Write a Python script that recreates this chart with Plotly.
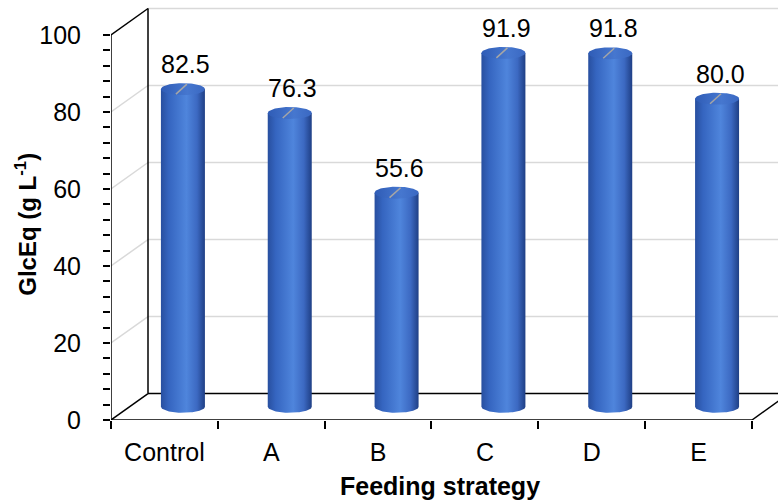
import numpy as np
import plotly.graph_objects as go

# ---- data ----
categories = ["Control", "A", "B", "C", "D", "E"]
glceq = [82.5, 76.3, 55.6, 91.9, 91.8, 80.0]
y_ticks = [0, 20, 40, 60, 80, 100]

# ---- geometry of the pseudo-3D frame (in axis units) ----
W, H = 778, 504
PX_X = 106.83           # pixels per category
PX_Y = 3.855            # pixels per g/L
Y0_PX = 420.5           # pixel row of the front floor edge
ML = 111                # left margin -> front value axis
XMAX = (W - ML) / PX_X
YMAX = (Y0_PX - 7) / PX_Y
DX = 37 / PX_X          # depth offset (x)
DY = 26.5 / PX_Y        # depth offset (y)
R_X = 22 / PX_X         # cylinder radius
R_Y = 6 / PX_Y          # ellipse half height
N = len(categories)

fig = go.Figure()

# ---- cylinders ----
body_scale = [[0.0, "#284f9f"], [0.18, "#3565c0"], [0.58, "#4f85dc"],
              [0.82, "#3c69c2"], [1.0, "#1f3f85"]]
top_scale = [[0.0, "#2f5cb6"], [0.6, "#4677cf"], [1.0, "#3a68c2"]]
t = np.linspace(0, np.pi, 40)
t_full = np.linspace(0, 2 * np.pi, 80)
for i, v in enumerate(glceq):
    cx = i + 0.5 + DX / 2
    base = DY / 2
    top = v + DY / 2
    # body: sides plus the front half of the bottom ellipse
    bx = np.concatenate([[cx - R_X, cx + R_X], cx + R_X * np.cos(t)])
    by = np.concatenate([[top, top], base - R_Y * np.sin(t)])
    fig.add_trace(go.Scatter(
        x=bx, y=by, mode="lines", line=dict(width=0), fill="toself",
        fillgradient=dict(type="horizontal", colorscale=body_scale,
                          start=cx - R_X, stop=cx + R_X),
        hoverinfo="skip", showlegend=False))
    # top face
    fig.add_trace(go.Scatter(
        x=cx + R_X * np.cos(t_full), y=top + R_Y * np.sin(t_full),
        mode="lines", line=dict(width=0), fill="toself",
        fillgradient=dict(type="horizontal", colorscale=top_scale,
                          start=cx - R_X, stop=cx + R_X),
        hoverinfo="skip", showlegend=False))

shapes = []
grey = "#d9d9d9"
# back wall gridlines and side-wall diagonals
for v in y_ticks:
    if v > 0:
        shapes.append(dict(type="line", layer="below", x0=DX, x1=XMAX,
                           y0=v + DY, y1=v + DY, line=dict(color=grey, width=1.5)))
    if 0 < v < 100:
        shapes.append(dict(type="line", layer="below", x0=0, x1=DX,
                           y0=v, y1=v + DY, line=dict(color=grey, width=1.5)))
black = dict(color="black", width=1.5)
# frame edges
shapes += [
    dict(type="line", layer="below", x0=0, x1=DX, y0=0, y1=DY, line=black),
    dict(type="line", layer="below", x0=0, x1=DX, y0=100, y1=100 + DY, line=black),
    dict(type="line", layer="below", x0=DX, x1=DX, y0=DY, y1=100 + DY, line=black),
    dict(type="line", layer="below", x0=DX, x1=XMAX, y0=DY, y1=DY, line=black),
    dict(type="line", layer="below", x0=N, x1=N + DX, y0=0, y1=DY, line=black),
    dict(type="line", x0=0, x1=N, y0=0, y1=0, line=black),
    dict(type="line", x0=0, x1=0, y0=0, y1=100, line=black),
]

# value labels with short leader lines
annotations = []
for i, v in enumerate(glceq):
    cx = i + 0.5 + DX / 2
    top = v + DY / 2
    shapes.append(dict(type="line", x0=cx - 7 / PX_X, y0=top - 5 / PX_Y,
                       x1=cx + 4 / PX_X, y1=top + 5 / PX_Y,
                       line=dict(color="#a6a6a6", width=1.5)))
    annotations.append(dict(x=cx, y=top, text=f"{v:.1f}", showarrow=False,
                            xshift=3, yshift=25, xanchor="center", yanchor="middle",
                            font=dict(size=25, color="black")))


def paper_x(px):
    return (px - ML) / (W - ML)


def paper_y(py):
    top_px = Y0_PX - YMAX * PX_Y
    return 1 - (py - top_px) / (Y0_PX - top_px)


annotations.append(dict(xref="paper", yref="paper", x=paper_x(26), y=paper_y(225),
                        xanchor="center", yanchor="middle",
                        text="<b>GlcEq (g L<sup>-1</sup>)</b>", textangle=-90,
                        showarrow=False, font=dict(size=24, color="black")))
annotations.append(dict(xref="paper", yref="paper", x=paper_x(440), y=paper_y(487),
                        xanchor="center", yanchor="middle",
                        text="<b>Feeding strategy</b>", showarrow=False,
                        font=dict(size=25, color="black")))

fig.update_layout(
    width=W, height=H,
    margin=dict(l=ML, r=0, t=Y0_PX - YMAX * PX_Y, b=H - Y0_PX, pad=0),
    paper_bgcolor="white", plot_bgcolor="white",
    font=dict(family="Liberation Sans, Arial, sans-serif", size=25, color="black"),
    shapes=shapes, annotations=annotations,
    xaxis=dict(range=[0, XMAX], showgrid=False, zeroline=False, showline=False,
               tickmode="array", tickvals=[i + 0.5 for i in range(N)],
               ticktext=categories, ticks="", ticklabelstandoff=15,
               minor=dict(tickmode="array", tickvals=list(range(N + 1)),
                          ticks="outside", ticklen=8, tickcolor="black", tickwidth=1.5),
               automargin=False, fixedrange=True),
    yaxis=dict(range=[0, YMAX], showgrid=False, zeroline=False, showline=False,
               tickmode="array", tickvals=y_ticks, ticks="outside", ticklen=7,
               tickcolor="black", tickwidth=1.5, ticklabelstandoff=17,
               minor=dict(tickmode="array", tickvals=list(range(0, 101, 4)),
                          ticks="outside", ticklen=7, tickcolor="black", tickwidth=1.5),
               automargin=False, fixedrange=True),
)

fig.write_html("out.html")
